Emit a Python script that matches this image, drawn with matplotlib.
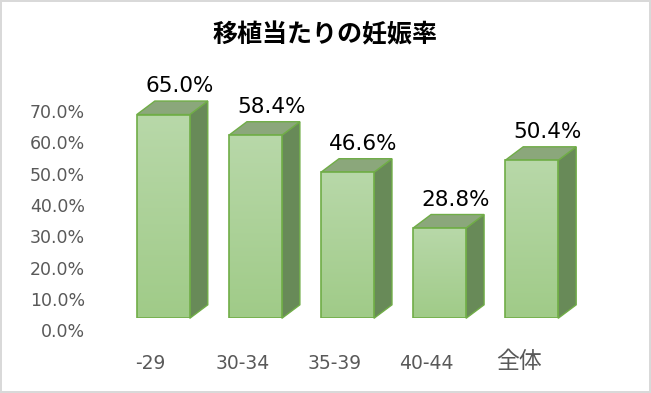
import numpy as np
import matplotlib
matplotlib.use("Agg")
import matplotlib.pyplot as plt
from matplotlib.patches import Polygon
from matplotlib.colors import LinearSegmentedColormap
import matplotlib.transforms as mtransforms

plt.rcParams['font.family'] = ['DejaVu Sans', 'Noto Sans CJK JP']

categories = ['-29', '30-34', '35-39', '40-44', '全体']
rates = [65.0, 58.4, 46.6, 28.8, 50.4]
yticks = [0, 10, 20, 30, 40, 50, 60, 70]

W, H = 651, 393
fig = plt.figure(figsize=(W / 100, H / 100), dpi=100)
fig.patch.set_edgecolor('#d9d9d9')
fig.patch.set_linewidth(1.5)

# axes placed so that front faces of the bars land where they are in the reference
x_px_per_unit = 92.1
y_px_per_unit = 3.135
left_px = 163.3 - 0.75 * x_px_per_unit
base_px = H - 318.3
ax_w = 5.5 * x_px_per_unit
ax_h = 80 * y_px_per_unit
ax = fig.add_axes([left_px / W, base_px / H, ax_w / W, ax_h / H])
ax.set_xlim(-0.75, 4.75)
ax.set_ylim(0, 80)

x = np.arange(len(categories))
bw = 0.575
dx = 18 / x_px_per_unit
dy = 13.5 / y_px_per_unit

edge = '#70ad47'
cmap = LinearSegmentedColormap.from_list('front', ['#a0cb88', '#b8d8a9'])
side_col = '#688a58'
top_col = '#8ba77b'

bars = ax.bar(x, rates, width=bw, facecolor='none', edgecolor=edge, linewidth=1.2, zorder=4)
grad = np.linspace(0, 1, 100).reshape(-1, 1)
for b in bars:
    x0, x1 = b.get_x(), b.get_x() + b.get_width()
    h = b.get_height()
    side = Polygon([(x1, 0), (x1 + dx, dy), (x1 + dx, h + dy), (x1, h)],
                   closed=True, facecolor=side_col, edgecolor=edge, linewidth=1.0, zorder=2)
    top = Polygon([(x0, h), (x0 + dx, h + dy), (x1 + dx, h + dy), (x1, h)],
                  closed=True, facecolor=top_col, edgecolor=edge, linewidth=1.0, zorder=2)
    side.set_clip_on(False)
    top.set_clip_on(False)
    ax.add_patch(side)
    ax.add_patch(top)
    im = ax.imshow(grad, cmap=cmap, extent=[x0, x1, 0, h], origin='lower',
                   aspect='auto', zorder=3)
    im.set_clip_path(b)
    ax.annotate(f'{h:.1f}%', xy=(b.get_x() + bw / 2 + dx, h + dy), xytext=(-2, 9),
                textcoords='offset pixels', ha='center', va='baseline',
                fontsize=15.5, color='black', annotation_clip=False)

ax.set_xlim(-0.75, 4.75)
ax.set_ylim(0, 80)

for s in ax.spines.values():
    s.set_visible(False)

ax.set_yticks(yticks)
ax.set_yticklabels([f'{v:.1f}%' for v in yticks])
ax.set_xticks(x)
ax.set_xticklabels(categories)
ax.tick_params(axis='y', length=0, pad=6.5, labelsize=12.5, labelcolor='#595959')
ax.tick_params(axis='x', length=0, pad=26, labelsize=13.5, labelcolor='#595959')

off_y = mtransforms.ScaledTranslation(0, -12 / 100, fig.dpi_scale_trans)
for lab in ax.get_yticklabels():
    lab.set_transform(lab.get_transform() + off_y)
off_x = mtransforms.ScaledTranslation(-13 / 100, 0, fig.dpi_scale_trans)
for lab in ax.get_xticklabels():
    lab.set_transform(lab.get_transform() + off_x)
    if lab.get_text() == '全体':
        lab.set_fontsize(16.5)
        lab.set_transform(lab.get_transform()
                          + mtransforms.ScaledTranslation(0, 4 / 100, fig.dpi_scale_trans))

fig.text(325.5 / W, 1 - 35 / H, '移植当たりの妊娠率', ha='center', va='center',
         fontsize=18, fontweight='bold', family=['Noto Sans CJK JP', 'DejaVu Sans'])

fig.savefig('out.png', dpi=100)
